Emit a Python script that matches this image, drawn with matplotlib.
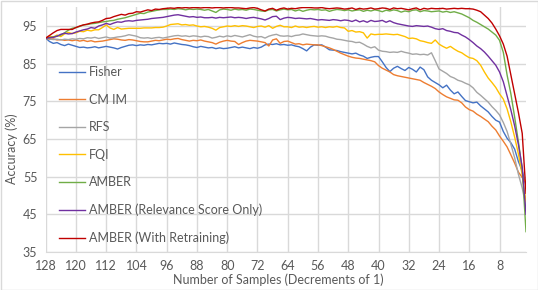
import matplotlib
matplotlib.use("Agg")
import matplotlib.pyplot as plt
import numpy as np

# number of samples, 128 down to 1
samples = np.arange(128, 0, -1)

fisher = [91.8, 90.9, 90.4, 90.6, 90.1, 89.8, 90.2, 89.9,
          89.6, 89.3, 89.4, 89.2, 89.3, 89.5, 89.2, 89.4,
          89.6, 89.4, 89.2, 88.9, 89.3, 89.6, 89.9, 90.0,
          89.8, 90.0, 89.9, 90.1, 90.0, 90.2, 90.4, 90.3,
          90.4, 90.2, 90.5, 90.3, 90.1, 90.0, 89.8, 89.5,
          89.3, 89.6, 89.4, 89.2, 89.3, 89.0, 89.2, 89.0,
          89.1, 89.3, 89.5, 89.2, 89.4, 89.2, 89.0, 89.3,
          89.1, 89.4, 90.0, 90.2, 90.1, 90.3, 90.0, 90.1,
          89.9, 90.0, 89.7, 89.5, 89.0, 88.4, 89.4, 90.0,
          89.9, 90.0, 89.4, 88.7, 88.6, 88.5, 88.2, 88.0,
          87.8, 87.6, 87.8, 87.3, 87.0, 86.4, 86.7, 86.9,
          86.9, 85.5, 84.0, 82.9, 83.8, 84.3, 83.7, 83.2,
          84.0, 83.5, 82.8, 84.1, 83.4, 81.5, 80.6, 80.0,
          79.4, 78.6, 79.3, 78.0, 77.0, 77.5, 76.3, 75.2,
          74.9, 74.6, 74.8, 73.8, 73.0, 72.2, 71.0, 70.0,
          69.5, 67.0, 65.2, 64.0, 62.3, 59.0, 56.5, 52.4]

cmim = [91.8, 91.5, 91.6, 91.3, 91.4, 91.2, 91.3, 91.1,
        91.3, 91.0, 91.2, 90.9, 91.1, 90.8, 90.9, 91.0,
        91.2, 91.4, 91.6, 91.5, 91.3, 91.2, 91.4, 91.3,
        91.1, 90.9, 90.8, 90.8, 91.0, 91.2, 91.1, 91.3,
        91.5, 91.4, 91.6, 91.7, 91.4, 91.2, 91.0, 91.2,
        91.1, 91.3, 91.0, 90.8, 90.6, 90.2, 90.7, 91.0,
        91.2, 91.0, 90.9, 90.1, 90.6, 91.0, 91.2, 91.1,
        91.0, 90.8, 90.6, 89.7, 91.3, 91.6, 90.4, 90.9,
        91.0, 90.6, 90.2, 90.3, 90.0, 90.2, 90.1, 90.0,
        90.0, 89.8, 89.5, 89.2, 88.8, 88.3, 87.8, 87.4,
        87.0, 86.7, 86.5, 86.4, 86.2, 86.0, 85.8, 85.5,
        84.5, 83.8, 83.3, 82.8, 82.1, 81.8, 81.6, 81.4,
        81.2, 81.0, 80.8, 80.6, 80.0, 79.5, 79.0, 78.4,
        77.5, 76.8, 76.2, 75.8, 75.4, 75.3, 74.6, 73.5,
        72.8, 72.4, 71.6, 71.0, 70.3, 69.6, 68.4, 67.4,
        65.8, 64.4, 62.9, 60.8, 58.6, 56.2, 54.8, 53.5]

rfs = [91.8, 91.6, 91.4, 91.5, 91.3, 91.5, 91.4, 91.6,
       91.5, 91.7, 91.6, 91.9, 91.8, 92.0, 91.7, 91.9,
       92.1, 91.8, 91.9, 92.1, 92.2, 92.4, 92.7, 92.5,
       92.3, 91.9, 91.8, 91.9, 91.7, 91.9, 92.0, 91.8,
       92.0, 92.2, 92.4, 92.5, 92.3, 92.4, 92.2, 92.4,
       92.3, 92.1, 92.3, 92.2, 91.8, 92.0, 92.3, 92.1,
       92.4, 92.2, 92.5, 92.3, 92.1, 92.4, 92.7, 92.3,
       92.1, 92.2, 91.8, 92.3, 92.6, 92.8, 92.4, 92.3,
       92.4, 92.2, 92.5, 92.6, 92.9, 92.7, 92.5, 92.4,
       92.3, 92.4, 92.3, 92.0, 91.8, 91.5, 91.4, 91.2,
       91.0, 90.9, 90.6, 90.7, 90.2, 89.6, 89.2, 89.5,
       88.6, 88.3, 88.2, 88.0, 88.1, 88.0, 88.3, 88.0,
       87.8, 87.5, 87.6, 87.4, 87.5, 87.3, 87.9, 85.8,
       83.6, 83.0, 82.4, 81.6, 81.2, 80.6, 80.3, 79.8,
       79.4, 78.6, 77.4, 76.6, 75.7, 74.8, 73.6, 72.6,
       71.4, 69.4, 67.0, 63.6, 60.0, 55.6, 52.0, 47.1]

fqi = [91.8, 92.3, 92.1, 92.6, 92.2, 92.9, 93.3, 93.0,
       93.2, 93.6, 93.5, 93.9, 93.7, 94.0, 94.0, 94.6,
       95.3, 94.5, 94.1, 94.6, 94.2, 94.3, 94.4, 94.4,
       94.4, 94.4, 94.5, 94.5, 94.5, 94.6, 94.6, 94.7,
       95.0, 95.4, 95.5, 95.6, 95.3, 95.4, 95.2, 95.3,
       95.0, 94.8, 94.9, 94.7, 94.4, 93.9, 94.6, 94.8,
       95.0, 94.9, 95.1, 94.9, 95.1, 95.0, 94.8, 94.6,
       94.9, 95.0, 94.7, 95.1, 94.4, 94.9, 95.2, 94.8,
       94.8, 94.6, 95.0, 94.7, 94.8, 94.6, 94.8, 94.9,
       94.7, 94.8, 94.6, 94.8, 94.7, 94.9, 94.6, 94.5,
       93.6, 93.8, 93.4, 93.5, 93.2, 91.8, 92.9, 92.7,
       92.8, 92.8, 92.9, 92.8, 92.7, 92.8, 92.5, 92.2,
       91.7, 91.8, 91.6, 91.1, 90.9, 90.6, 90.4, 91.3,
       90.2, 89.6, 89.1, 89.6, 88.9, 88.3, 87.9, 87.2,
       86.6, 86.4, 85.8, 84.6, 82.8, 81.2, 80.0, 78.7,
       77.0, 75.6, 73.0, 69.5, 65.5, 61.0, 55.5, 48.4]

amber = [91.8, 91.9, 92.1, 92.3, 92.6, 93.2, 93.9, 94.4,
         94.6, 94.9, 95.3, 95.4, 95.6, 95.7, 95.9, 96.1,
         96.2, 96.4, 96.5, 96.8, 97.0, 97.2, 97.5, 97.8,
         98.1, 98.4, 98.3, 98.7, 98.9, 99.1, 99.3, 99.4,
         99.4, 99.5, 99.4, 99.6, 99.5, 99.3, 99.5, 99.4,
         99.5, 99.4, 99.2, 99.4, 99.0, 98.6, 99.3, 99.5,
         99.4, 99.2, 99.5, 99.3, 99.4, 99.2, 99.5, 99.4,
         99.2, 99.0, 98.9, 99.3, 99.4, 99.0, 99.3, 99.5,
         99.3, 99.4, 99.0, 99.3, 98.9, 99.2, 99.4, 99.3,
         99.4, 99.2, 99.3, 98.9, 99.2, 99.4, 99.3, 99.1,
         99.3, 99.0, 99.2, 99.3, 98.9, 99.2, 99.0, 99.3,
         99.1, 98.8, 99.2, 99.0, 99.3, 99.1, 98.7, 99.0,
         98.8, 99.2, 99.3, 98.8, 99.1, 99.0, 98.8, 98.9,
         99.0, 98.7, 98.9, 98.6, 98.8, 98.5, 98.2, 97.7,
         97.2, 96.5, 96.0, 95.4, 94.8, 94.2, 93.4, 92.6,
         91.2, 88.0, 82.0, 77.0, 70.8, 64.2, 57.0, 40.4]

amber_rs = [91.8, 91.9, 92.0, 92.3, 92.8, 93.1, 92.9, 93.0,
            93.4, 93.7, 94.0, 94.2, 94.6, 94.4, 95.0, 95.3,
            95.7, 95.4, 95.8, 96.1, 96.0, 96.3, 96.4, 96.3,
            96.5, 96.6, 96.7, 96.8, 97.0, 97.1, 97.2, 97.3,
            97.5, 97.7, 97.9, 98.0, 97.8, 97.6, 97.4, 97.5,
            97.3, 97.4, 97.2, 97.2, 97.3, 97.1, 97.3, 97.2,
            97.3, 97.4, 97.2, 97.3, 97.2, 97.0, 97.2, 97.3,
            97.1, 96.9, 96.6, 97.0, 97.5, 97.6, 96.7, 97.1,
            97.3, 97.2, 97.0, 97.1, 97.0, 96.9, 97.0, 96.8,
            96.6, 96.7, 96.6, 96.5, 96.7, 96.6, 96.4, 96.6,
            96.5, 96.2, 96.6, 96.1, 96.4, 96.0, 96.5, 96.2,
            96.3, 96.5, 96.0, 96.4, 95.9, 95.6, 95.4, 95.2,
            95.0, 94.9, 95.1, 95.0, 94.9, 95.0, 94.7, 94.3,
            94.1, 94.3, 93.8, 93.6, 93.3, 93.2, 92.6, 92.1,
            91.4, 90.6, 89.7, 89.0, 88.1, 87.0, 85.8, 84.6,
            82.8, 80.2, 76.5, 72.7, 68.5, 63.5, 57.5, 45.0]

amber_rt = [91.8, 92.5, 93.2, 93.8, 94.1, 94.1, 94.1, 94.1,
            94.6, 95.0, 95.3, 95.5, 95.8, 96.0, 96.1, 96.5,
            97.0, 97.1, 97.5, 97.8, 98.1, 97.9, 98.3, 98.4,
            98.8, 98.7, 99.0, 99.3, 99.1, 99.5, 99.4, 99.6,
            99.7, 99.8, 99.7, 99.9, 99.8, 99.9, 99.8, 99.9,
            99.9, 99.8, 99.9, 99.9, 99.8, 99.9, 99.9, 99.8,
            99.9, 99.9, 99.8, 99.8, 99.7, 99.6, 99.8, 99.9,
            99.7, 99.3, 99.0, 99.5, 99.7, 99.2, 99.6, 99.8,
            99.5, 99.7, 99.6, 99.8, 99.9, 99.9, 99.9, 99.8,
            99.8, 99.9, 99.7, 99.6, 99.7, 99.8, 99.7, 99.5,
            99.6, 99.8, 99.4, 99.7, 99.5, 99.6, 99.8, 99.5,
            99.6, 99.8, 99.7, 99.4, 99.8, 99.6, 99.7, 99.5,
            99.3, 99.6, 99.8, 99.3, 99.7, 99.5, 99.7, 99.6,
            99.6, 99.7, 99.5, 99.6, 99.7, 99.6, 99.7, 99.6,
            99.6, 99.5, 99.2, 98.8, 97.9, 97.0, 95.8, 94.2,
            92.4, 90.2, 87.0, 82.0, 77.0, 72.0, 66.5, 50.6]

names = ["Fisher", "CM IM", "RFS", "FQI", "AMBER",
         "AMBER (Relevance Score Only)", "AMBER (With Retraining)"]
colors = ["#4472C4", "#ED7D31", "#A5A5A5", "#FFC000", "#70AD47",
          "#7030A0", "#C00000"]
series = [fisher, cmim, rfs, fqi, amber, amber_rs, amber_rt]

plt.rcParams['font.family'] = ['Lato', 'DejaVu Sans']
txt = "#595959"

fig = plt.figure(figsize=(5.38, 2.90), dpi=100)
ax = fig.add_axes([45.7 / 538, 38 / 290, 480.3 / 538, 244.8 / 290])

for s, c, n in zip(series, colors, names):
    ax.plot(samples, s, color=c, lw=1.0, label=n)

ax.set_xlim(128, 1)
ax.set_ylim(35, 100)
ax.set_xticks(np.arange(128, 0, -8))
ax.set_yticks(np.arange(35, 100, 10))
ax.grid(True, color="#d9d9d9", lw=1)
ax.set_axisbelow(True)
for sp in ["top", "right", "left"]:
    ax.spines[sp].set_visible(False)
ax.spines["bottom"].set_color("#d9d9d9")
ax.tick_params(length=0, labelsize=9, labelcolor=txt, pad=6)

ax.legend(loc="center left", bbox_to_anchor=(0.028, 0.396), frameon=False,
          fontsize=9, labelcolor=txt, handlelength=2.1, handletextpad=0.25,
          labelspacing=1.24, borderpad=0, borderaxespad=0)

fig.text(12 / 538, 1 - 149 / 290, "Accuracy (%)", rotation=90, ha="center",
         va="center", fontsize=9, color=txt)
fig.text(278 / 538, 1 - 280 / 290, "Number of Samples (Decrements of 1)",
         ha="center", va="center", fontsize=9, color=txt)

fig.patches.append(plt.Rectangle((0.5 / 538, 0.5 / 290), 537 / 538, 289 / 290,
                                 transform=fig.transFigure, fill=False,
                                 edgecolor="#d9d9d9", lw=1))

fig.savefig("out.png", dpi=100)
